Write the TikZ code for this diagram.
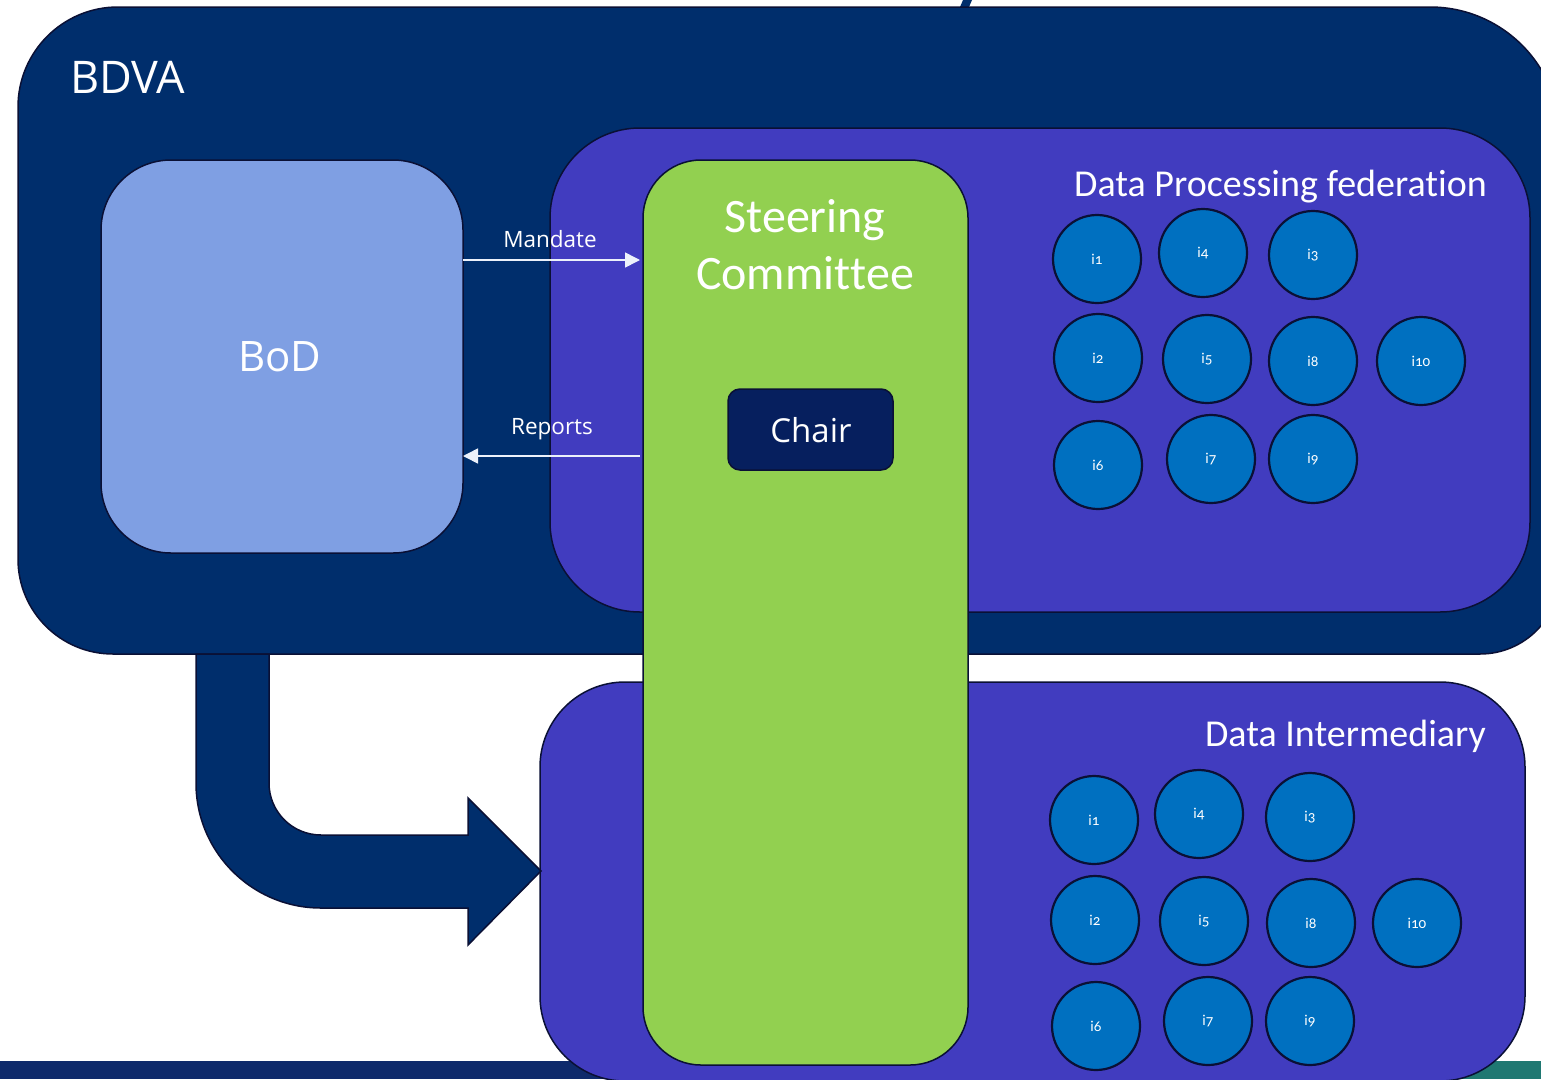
\documentclass[tikz,border=0pt]{standalone}
\usepackage{fontspec}
\setmainfont{Carlito}[Ligatures={NoCommon,NoContextual}]
\newfontfamily\segoe{Open Sans}
\newfontfamily\numf{Carlito}[Numbers=OldStyle]
\usetikzlibrary{arrows.meta}
\definecolor{bdvablue}{HTML}{002E6C}
\definecolor{edgenavy}{HTML}{0A1035}
\definecolor{fedpurple}{HTML}{413CBF}
\definecolor{bodblue}{HTML}{7F9FE3}
\definecolor{steergreen}{HTML}{92D050}
\definecolor{chairnavy}{HTML}{061F5E}
\definecolor{membblue}{HTML}{0070C0}
\definecolor{barnavy}{HTML}{0E2A6B}
\definecolor{barteal}{HTML}{1F7872}
\tikzset{
  panel/.style={draw=edgenavy, line width=1.5pt},
  member/.style={circle, draw=edgenavy, line width=2.2pt, fill=membblue, minimum size=88pt, inner sep=0pt, text=white, font=\numf\fontsize{15}{17}\selectfont},
  flowline/.style={draw=white!85!bodblue, line width=1.6pt, -{Triangle[length=15pt,width=15pt]}},
  flowlabel/.style={text=white, inner sep=0pt, anchor=base, font=\segoe\fontsize{22.5}{26}\selectfont},
  titletext/.style={text=white, inner sep=0pt, font=\fontsize{38}{44}\selectfont}
}
\begin{document}
\begin{tikzpicture}[x=1pt,y=-1pt]
\useasboundingbox (0,0) rectangle (1541,1079);
\clip (0,0) rectangle (1541,1079);
\fill[white] (0,0) rectangle (1541,1079);
% cut-off fragment at the top
\fill[bdvablue] (960,7) -- (963,0) -- (972,0) -- (969,7) -- cycle;
% BDVA panel
\path[panel, fill=bdvablue] (18,107) arc[start angle=180, end angle=270, radius=100]
  -- (1430,7) arc[start angle=270, end angle=360, radius=130]
  -- (1560,574) arc[start angle=0, end angle=90, radius=80]
  -- (113,654) arc[start angle=90, end angle=180, radius=95] -- cycle;
\node[text=white, inner sep=0pt, anchor=base west, font=\segoe\fontsize{45}{52}\selectfont] (bdva) at (70,93) {BDVA};
% bottom bars
\fill[barnavy] (0,1061) rectangle (900,1079);
\fill[barteal] (1300,1061) rectangle (1541,1079);
% Data processing federation panel
\draw[panel, fill=fedpurple, rounded corners=90pt] (550,128) rectangle (1530,612);
% BoD
\node[draw=edgenavy, line width=1.5pt, fill=bodblue, rounded corners=70pt, minimum width=362pt, minimum height=393pt, inner sep=0pt] (bod) at (282,356.5) {};
\node[text=white, font=\segoe\fontsize{42}{48}\selectfont, inner sep=0pt] (bodtext) at (280,357) {BoD};
% Data intermediary panel
\draw[panel, fill=fedpurple, rounded corners=85pt] (540,682) rectangle (1525,1081);
% bent arrow
\path[draw=edgenavy, line width=1.5pt, fill=bdvablue] (196,654) -- (196,783)
  arc[start angle=180, end angle=90, radius=125]
  -- (468,908) -- (468,945) -- (541,871) -- (468,798) -- (468,835) -- (321,835)
  arc[start angle=90, end angle=180, radius=52]
  -- (269,654) -- cycle;
% Steering committee
\node[draw=edgenavy, line width=1.5pt, fill=steergreen, rounded corners=58pt, minimum width=325pt, minimum height=905pt, inner sep=0pt] (steer) at (805.5,612.5) {};
\node[titletext, anchor=base, font=\fontsize{48}{56}\selectfont] (steer1) at (805,232) {Steering};
\node[titletext, anchor=base, font=\fontsize{48}{56}\selectfont] (steer2) at (805,289) {Commit\kern0pt tee};
\node[draw=edgenavy, line width=1.5pt, fill=chairnavy, rounded corners=12pt, minimum width=165pt, minimum height=81pt, inner sep=0pt] (chair) at (810.5,429.5) {};
\node[text=white, inner sep=0pt, anchor=base, font=\segoe\fontsize{33}{40}\selectfont] (chairtext) at (811,442) {Chair};
% mandate / reports
\coordinate (mstart) at (463,260);
\coordinate (mend) at (640,260);
\coordinate (rstart) at (640,456);
\coordinate (rend) at (463,456);
\draw[flowline] (mstart) -- (mend);
\draw[flowline] (rstart) -- (rend);
\node[flowlabel] (mandate) at (550,247) {Mandate};
\node[flowlabel] (reports) at (552,434) {Reports};
% titles
\node[titletext, anchor=base east] (dpf) at (1487,196) {Data Processing federation};
\node[titletext, anchor=base east] (di) at (1486,746) {Data Intermediary};
% DPF members
\node[member] (p1) at (1097,259) {i1};
\node[member] (p4) at (1203,253) {i4};
\node[member] (p3) at (1313,255) {i3};
\node[member] (p2) at (1098,358) {i2};
\node[member] (p5) at (1207,359) {i5};
\node[member] (p8) at (1313,361) {i8};
\node[member] (p10) at (1421,361) {i10};
\node[member] (p6) at (1098,465) {i6};
\node[member] (p7) at (1211,459) {i7};
\node[member] (p9) at (1313,459) {i9};
% DI members
\node[member] (d1) at (1094,820) {i1};
\node[member] (d4) at (1199,814) {i4};
\node[member] (d3) at (1310,817) {i3};
\node[member] (d2) at (1095,920) {i2};
\node[member] (d5) at (1204,921) {i5};
\node[member] (d8) at (1311,923) {i8};
\node[member] (d10) at (1417,923) {i10};
\node[member] (d6) at (1096,1026) {i6};
\node[member] (d7) at (1208,1021) {i7};
\node[member] (d9) at (1310,1021) {i9};
\end{tikzpicture}
\end{document}
